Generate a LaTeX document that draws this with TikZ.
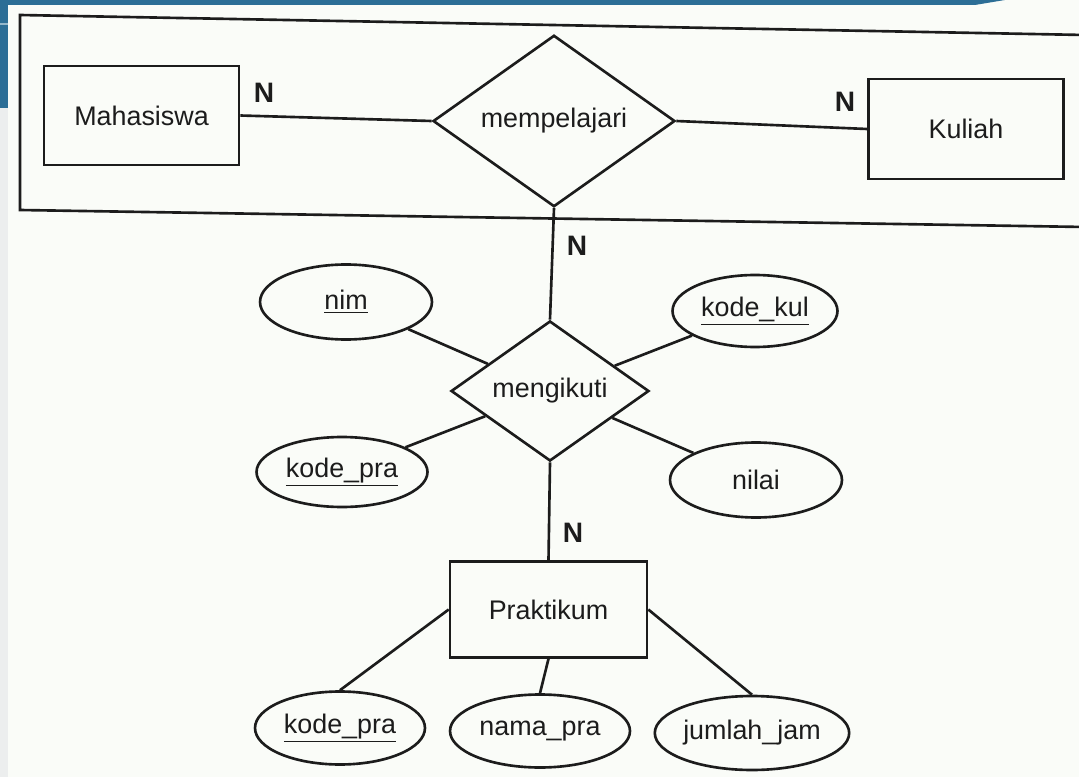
\documentclass[tikz,border=0pt]{standalone}
\usepackage{fontspec}
\setmainfont{Liberation Sans}
\usetikzlibrary{shapes.geometric}
\definecolor{slideblue}{RGB}{44,110,150}
\definecolor{paper}{RGB}{250,252,248}
\definecolor{stripgray}{RGB}{236,238,238}
\definecolor{ink}{RGB}{28,28,28}
\begin{document}
\begin{tikzpicture}[x=0.02cm,y=-0.02cm,
  every node/.style={font=\fontsize{15.3}{18}\selectfont, text=ink},
  line/.style={draw=ink, line width=1.5pt},
  entbox/.style={draw=ink, line width=1.5pt, rectangle, inner sep=0pt},
  relbox/.style={draw=ink, line width=1.5pt, diamond, inner sep=0pt},
  attr/.style={draw=ink, line width=1.5pt, ellipse, inner sep=0pt},
  card/.style={font=\fontsize{16}{18}\selectfont\bfseries, inner sep=0pt}]
% canvas
\useasboundingbox (0,0) rectangle (1079,777);
\fill[paper] (0,0) rectangle (1079,777);
\fill[stripgray] (0,0) rectangle (8,777);
\fill[slideblue] (0,0) rectangle (975,5);
\fill[slideblue] (975,0) -- (1005,0) -- (975,5) -- cycle;
\fill[slideblue] (0,0) rectangle (8,108);
\draw[slideblue!50!white, line width=0.8pt] (0,24) -- (8,24);
% aggregation box
\coordinate (agTL) at (20,15);
\coordinate (agTR) at (1085,35);
\coordinate (agBR) at (1085,227);
\coordinate (agBL) at (20,210);
\draw[line] (agTR) -- (agTL) -- (agBL) -- (agBR);
% entities
\node[entbox, minimum width=3.9cm, minimum height=1.98cm] (mhs) at (141.5,115.5) {Mahasiswa};
\node[entbox, minimum width=3.9cm, minimum height=2cm] (kul) at (966,129) {Kuliah};
\node[entbox, minimum width=3.94cm, minimum height=1.92cm] (prak) at (548.5,609.5) {Praktikum};
% relationships
\node[relbox, minimum width=4.84cm, minimum height=2.88cm] (mp) at (554,121) {mempelajari};
\node[relbox, minimum width=3.96cm, minimum height=1.9cm] (mk) at (550,391) {mengikuti};
% attributes
\node[attr, minimum width=3.44cm, minimum height=1.5cm] (nim) at (346,302) {\underline{nim}};
\node[attr, minimum width=3.3cm, minimum height=1.44cm] (kkul) at (755,311) {\underline{kode\_kul}};
\node[attr, minimum width=3.42cm, minimum height=1.4cm] (kpra) at (342,472) {\underline{kode\_pra}};
\node[attr, minimum width=3.44cm, minimum height=1.5cm] (nilai) at (756,480) {nilai};
\node[attr, minimum width=3.4cm, minimum height=1.46cm] (kpratwo) at (340,728) {\underline{kode\_pra}};
\node[attr, minimum width=3.6cm, minimum height=1.46cm] (npra) at (540,731) {nama\_pra};
\node[attr, minimum width=3.4cm, minimum height=1.48cm] (jjam) at (752,733) {jumlah\_jam};
% connectors
\draw[line] (mhs.east) -- (mp.west);
\draw[line] (mp.east) -- (kul.west);
\draw[line] (mp.south) -- (mk.north);
\draw[line] (mk.south) -- (prak.north);
\draw[line] (nim) -- (mk);
\draw[line] (kkul) -- (mk);
\draw[line] (kpra) -- (mk);
\draw[line] (nilai) -- (mk);
\draw[line] (prak.west) -- (kpratwo.north);
\draw[line] (prak.south) -- (npra.north);
\draw[line] (prak.east) -- (jjam.north);
% cardinalities
\node[card] (n1) at (264,93) {N};
\node[card] (n2) at (845,102) {N};
\node[card] (n3) at (577,246) {N};
\node[card] (n4) at (573,533) {N};
\end{tikzpicture}
\end{document}
